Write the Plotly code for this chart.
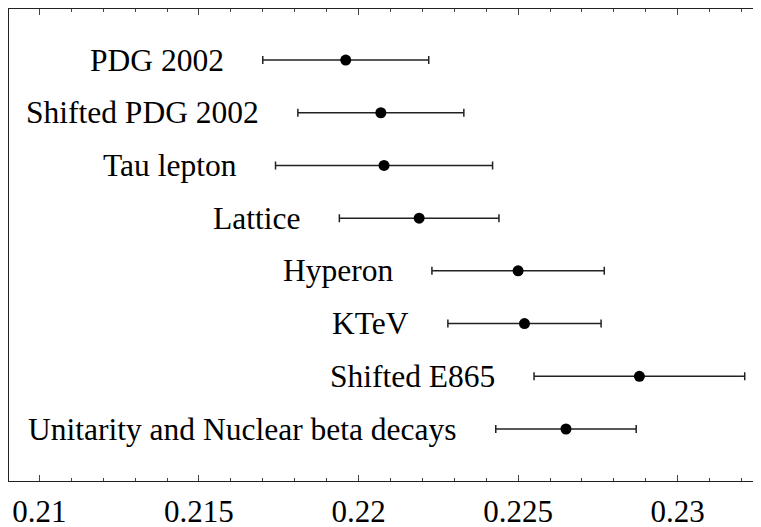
import plotly.graph_objects as go

labels = ["PDG 2002", "Shifted PDG 2002", "Tau lepton", "Lattice", "Hyperon",
          "KTeV", "Shifted E865", "Unitarity and Nuclear beta decays"]
values = [0.2196, 0.2207, 0.2208, 0.2219, 0.2250, 0.2252, 0.2288, 0.2265]
errors = [0.0026, 0.0026, 0.0034, 0.0025, 0.0027, 0.0024, 0.0033, 0.0022]
rows = [8, 7, 6, 5, 4, 3, 2, 1]
tick_vals = [0.21, 0.215, 0.22, 0.225, 0.23]
tick_text = ["0.21", "0.215", "0.22", "0.225", "0.23"]

FONT = "Liberation Serif, Times New Roman, serif"

fig = go.Figure()
fig.add_trace(go.Scatter(
    x=values, y=rows, mode="markers",
    marker=dict(color="black", size=11),
    error_x=dict(type="data", array=errors, visible=True,
                 color="#222222", thickness=1.5, width=4),
    showlegend=False,
))

for lab, v, e, r in zip(labels, values, errors, rows):
    fig.add_annotation(x=v - e, y=r, text=lab, showarrow=False,
                       xanchor="right", yanchor="middle", xshift=-37,
                       font=dict(family=FONT, size=31.5, color="black"))

fig.update_layout(
    width=753, height=519,
    margin=dict(l=1, r=0, t=1, b=46, autoexpand=False),
    paper_bgcolor="white", plot_bgcolor="white",
    font=dict(family=FONT, size=31, color="black"),
    xaxis=dict(range=[0.20905, 0.23261], tickvals=tick_vals, ticktext=tick_text,
               automargin=False, ticklabelstandoff=3,
               showgrid=False, zeroline=False, showline=True, linecolor="#222222",
               linewidth=1, mirror="ticks", ticks="inside", ticklen=6,
               tickcolor="#444444", tickwidth=1,
               minor=dict(ticks="inside", dtick=0.001, tick0=0.21, ticklen=3,
                          tickcolor="#444444", showgrid=False),
               tickfont=dict(family=FONT, size=31, color="black")),
    yaxis=dict(range=[0.0135, 8.968], automargin=False, showgrid=False, zeroline=False,
               showline=True, linecolor="#222222", linewidth=1,
               showticklabels=False, ticks=""),
)

fig.write_html(
    "out.html",
    post_script="document.documentElement.style.overflow='hidden';"
                "document.body.style.overflow='hidden';",
)
